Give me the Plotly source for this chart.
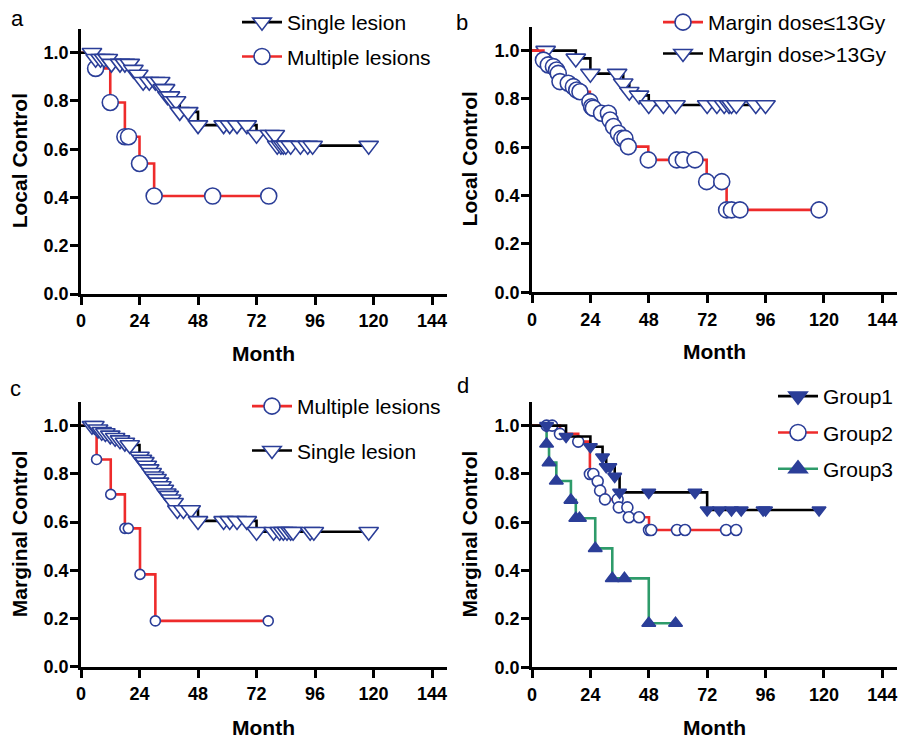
import plotly.graph_objects as go

# ---------------- data (months, survival after each point) ----------------
a_single_t = [4.5, 6, 8, 9.5, 11, 12.5, 16, 18, 20, 21.5, 23.5, 25.5, 28, 30.5, 32.5,
              33.5, 34.5, 35.5, 36.5, 37.5, 39, 40.5, 44, 48, 58.5, 61, 64, 68, 72, 77.5,
              79.5, 80.5, 82, 83, 84, 86, 90, 93, 95, 118]
a_single_s = [1.0, 0.975, 0.975, 0.975, 0.975, 0.955, 0.955, 0.955, 0.955, 0.93, 0.91,
              0.88, 0.88, 0.88, 0.88, 0.85, 0.85, 0.82, 0.82, 0.80, 0.80, 0.755, 0.755,
              0.70, 0.70, 0.70, 0.70, 0.70, 0.66, 0.66, 0.66, 0.615, 0.615, 0.615, 0.615,
              0.615, 0.615, 0.615, 0.615, 0.615]
a_multi_t = [6, 12, 18, 19.5, 24, 30, 54, 77]
a_multi_s = [0.935, 0.794, 0.652, 0.652, 0.541, 0.406, 0.406, 0.406]

b_low_t = [4.7, 6.7, 8.8, 10.1, 10.8, 11.5, 14.9, 17, 18.4, 19.7, 23.8, 24.5, 25.2, 28.6,
           31.4, 32.1, 33.5, 35.5, 36.9, 38.2, 39.6, 47.8, 59.5, 62.2, 67, 71.8, 78, 80,
           82, 85.5, 118]
b_low_s = [0.961, 0.941, 0.934, 0.92, 0.906, 0.872, 0.865, 0.851, 0.837, 0.83, 0.789,
           0.768, 0.762, 0.741, 0.741, 0.713, 0.686, 0.658, 0.637, 0.637, 0.603, 0.548,
           0.548, 0.548, 0.548, 0.458, 0.458, 0.341, 0.341, 0.341, 0.341]
b_high_t = [5.6, 18, 24, 35, 37.5, 40, 44, 48, 54, 59, 72, 76, 79, 81, 82, 84, 92, 96]
b_high_s = [1.0, 0.968, 0.905, 0.905, 0.865, 0.83, 0.815, 0.775, 0.775, 0.775, 0.775,
            0.775, 0.775, 0.775, 0.775, 0.775, 0.775, 0.775]

c_multi_t = [6.4, 12.2, 18, 19.4, 24.2, 30.5, 76.8]
c_multi_s = [0.86, 0.715, 0.574, 0.574, 0.383, 0.19, 0.19]
c_single_t = [4.5, 5.5, 7, 8.5, 10, 12, 14, 16, 18, 20, 24, 25, 26, 27, 28, 29, 30, 31,
              32, 33, 34, 35, 36, 37, 38, 39.5, 42, 45, 48, 58.5, 61, 64, 68, 72, 79,
              81.5, 83, 84.5, 86, 87, 94, 95.5, 118]
c_single_s = [1.0, 1.0, 0.985, 0.975, 0.97, 0.96, 0.95, 0.94, 0.93, 0.92, 0.872, 0.86,
              0.85, 0.835, 0.82, 0.805, 0.79, 0.78, 0.765, 0.75, 0.735, 0.72, 0.71, 0.695,
              0.68, 0.65, 0.65, 0.65, 0.605, 0.605, 0.605, 0.605, 0.605, 0.56, 0.56, 0.56,
              0.56, 0.56, 0.56, 0.56, 0.56, 0.56, 0.56]

d_g1_t = [6, 14, 24, 29, 30.5, 32, 34, 36, 48, 67, 72, 77, 82, 86, 95, 96, 118]
d_g1_s = [1.0, 0.955, 0.913, 0.87, 0.83, 0.83, 0.79, 0.724, 0.724, 0.724, 0.651, 0.651,
          0.651, 0.651, 0.651, 0.651, 0.651]
d_g2_t = [6, 8.3, 11.5, 19, 23.8, 25.2, 27, 28, 30, 35.2, 35.7, 39.2, 39.8, 44, 48.1, 49,
          59.6, 62.9, 79.8, 83.9]
d_g2_s = [1.0, 1.0, 0.966, 0.934, 0.80, 0.80, 0.77, 0.731, 0.695, 0.695, 0.662, 0.662,
          0.621, 0.621, 0.568, 0.568, 0.568, 0.568, 0.568, 0.568]
d_g3_t = [6, 7, 10, 16, 18, 19.5, 26, 33, 38, 48, 59]
d_g3_s = [0.924, 0.847, 0.771, 0.692, 0.617, 0.617, 0.492, 0.368, 0.368, 0.182, 0.182]

x_ticks = [0, 24, 48, 72, 96, 120, 144]
y_ticks = [0.0, 0.2, 0.4, 0.6, 0.8, 1.0]

# ---------------- style ----------------
W, H = 903, 738
FONT = "Arial, 'Liberation Sans', Helvetica, sans-serif"
BLUE = "#2B3E98"
RED = "#EE2B2B"
BLACK = "#000000"
GREEN = "#2E9B6A"


def px_x(p):
    return p / W


def px_y(p):
    return 1 - p / H


# panel geometry in pixels: (x0, x1, ybottom, ytop)
panels = {
    "a": (81, 446.7, 294.0, 28.6),
    "b": (532, 896.9, 292.3, 26.5),
    "c": (81, 446.7, 666.7, 401.6),
    "d": (532, 896.9, 667.3, 401.5),
}
axis_ids = {"a": ("x", "y"), "b": ("x2", "y2"), "c": ("x3", "y3"), "d": ("x4", "y4")}
legend_ids = {"a": "legend", "b": "legend2", "c": "legend3", "d": "legend4"}

fig = go.Figure()


def add_km(panel, t, s, name, lcolor, symbol, msize, mfill, rank):
    xa, ya = axis_ids[panel]
    lg = legend_ids[panel]
    # step line from the origin
    fig.add_trace(go.Scatter(
        x=[0] + list(t), y=[1.0] + list(s), mode="lines",
        line=dict(color=lcolor, width=2.6, shape="hv"),
        xaxis=xa, yaxis=ya, showlegend=False, hoverinfo="skip"))
    # symbols at each subject
    fig.add_trace(go.Scatter(
        x=t, y=s, mode="markers",
        marker=dict(symbol=symbol, size=msize, color=mfill,
                    line=dict(color=BLUE, width=1.6)),
        xaxis=xa, yaxis=ya, showlegend=False))
    # legend entry
    fig.add_trace(go.Scatter(
        x=[None], y=[None], mode="lines+markers", name=name,
        line=dict(color=lcolor, width=2.6),
        marker=dict(symbol=symbol, size=16, color=mfill,
                    line=dict(color=BLUE, width=1.6)),
        xaxis=xa, yaxis=ya, legend=lg, legendgroup=panel + name, legendrank=rank))


add_km("a", a_multi_t, a_multi_s, "Multiple lesions", RED, "circle", 16, "white", 2)
add_km("a", a_single_t, a_single_s, "Single lesion", BLACK, "triangle-down", 17, "white", 1)

add_km("b", b_high_t, b_high_s, "Margin dose>13Gy", BLACK, "triangle-down", 17, "white", 2)
add_km("b", b_low_t, b_low_s, "Margin dose≤13Gy", RED, "circle", 16, "white", 1)

add_km("c", c_multi_t, c_multi_s, "Multiple lesions", RED, "circle", 10, "white", 1)
add_km("c", c_single_t, c_single_s, "Single lesion", BLACK, "triangle-down", 17, "white", 2)

add_km("d", d_g3_t, d_g3_s, "Group3", GREEN, "triangle-up", 12, BLUE, 3)
add_km("d", d_g2_t, d_g2_s, "Group2", RED, "circle", 11, "white", 2)
add_km("d", d_g1_t, d_g1_s, "Group1", BLACK, "triangle-down", 12, BLUE, 1)

layout = dict(
    width=W, height=H, margin=dict(l=0, r=0, t=0, b=0, autoexpand=False),
    paper_bgcolor="white", plot_bgcolor="white",
    font=dict(family=FONT, color="black"),
    showlegend=True,
)

annotations = []
ylabels = {"a": "Local Control", "b": "Local Control",
           "c": "Marginal Control", "d": "Marginal Control"}
letters = {"a": (17, 18), "b": (462, 22), "c": (15, 388), "d": (463, 386)}
month_y = {"a": 353, "b": 352, "c": 727, "d": 727}
ytitle_x = {"a": 19, "b": 469, "c": 19, "d": 469}

for key, (x0, x1, yb, yt) in panels.items():
    xa, ya = axis_ids[key]
    xname = "xaxis" + xa[1:]
    yname = "yaxis" + ya[1:]
    layout[xname] = dict(
        domain=[px_x(x0), px_x(x1)], anchor=ya, range=[0, 150], automargin=False,
        tickvals=x_ticks, showline=True, linewidth=2.7, linecolor="black",
        ticks="outside", ticklen=8, tickwidth=2.5, tickcolor="black",
        showgrid=False, zeroline=False, ticklabelstandoff=1,
        tickfont=dict(size=18, family=FONT, weight="bold", color="black"))
    layout[yname] = dict(
        domain=[px_y(yb), px_y(yt)], anchor=xa, range=[0, 1.1], automargin=False,
        tickvals=y_ticks, tickformat=".1f", showline=True, linewidth=2.7,
        linecolor="black", ticks="outside", ticklen=8, tickwidth=2.5,
        tickcolor="black", showgrid=False, zeroline=False, ticklabelstandoff=-2,
        tickfont=dict(size=18, family=FONT, weight="bold", color="black"))
    annotations.append(dict(
        text="<b>Month</b>", xref="paper", yref="paper",
        x=px_x((x0 + x1) / 2), y=px_y(month_y[key]), xanchor="center", yanchor="middle",
        showarrow=False, font=dict(size=21, family=FONT, color="black")))
    annotations.append(dict(
        text="<b>" + ylabels[key] + "</b>", xref="paper", yref="paper", textangle=-90,
        x=px_x(ytitle_x[key]), y=px_y((yb + yt) / 2), xanchor="center", yanchor="middle",
        showarrow=False, font=dict(size=21, family=FONT, color="black")))
    lx, ly = letters[key]
    annotations.append(dict(
        text=key, xref="paper", yref="paper", x=px_x(lx), y=px_y(ly),
        xanchor="center", yanchor="middle", showarrow=False,
        font=dict(size=22, family=FONT, color="black")))

layout["annotations"] = annotations

legend_pos = {"legend": (237, 2, 4), "legend2": (658, 2, 1),
              "legend3": (247, 386, 14), "legend4": (773, 376, 6)}
for lg, (lx, ly, gap) in legend_pos.items():
    layout[lg] = dict(
        x=px_x(lx), y=px_y(ly), xanchor="left", yanchor="top",
        xref="paper", yref="paper", bgcolor="rgba(0,0,0,0)", borderwidth=0,
        font=dict(size=21, family=FONT, color="black"),
        itemwidth=40, traceorder="grouped", tracegroupgap=gap)

fig.update_layout(**layout)
fig.write_html("out.html",
               config={"displayModeBar": False},
               post_script="document.body.style.margin='0px';"
                           "document.body.style.padding='0px';"
                           "document.body.style.overflow='hidden';")
